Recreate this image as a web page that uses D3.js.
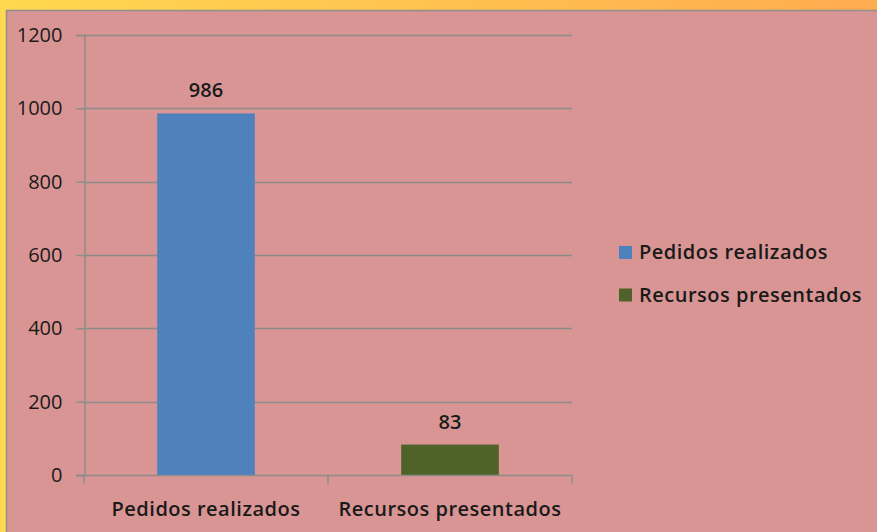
<!DOCTYPE html>
<html>
<head>
<meta charset="utf-8">
<script src="https://cdn.jsdelivr.net/npm/d3@7"></script>
<style>
  body { margin: 0; padding: 0; overflow: hidden; }
  svg { display: block; }
</style>
</head>
<body>
<div id="chart"></div>
<script>
// Data
const categories = ['Pedidos realizados', 'Recursos presentados'];
const values = [986, 83];
const barColors = ['#4f81bd', '#4f6228'];
const yTicks = [0, 200, 400, 600, 800, 1000, 1200];

const W = 877, H = 532;
const fontFamily = '"Open Sans", "Noto Sans", sans-serif';
const textColor = '#1a1a1a';

const svg = d3.select('#chart').append('svg')
    .attr('width', W)
    .attr('height', H);

// Frame gradient (yellow -> orange)
const defs = svg.append('defs');
const grad = defs.append('linearGradient')
    .attr('id', 'frameGrad')
    .attr('x1', '0%').attr('x2', '100%')
    .attr('y1', '0%').attr('y2', '0%');
grad.append('stop').attr('offset', '0%').attr('stop-color', '#ffd84f');
grad.append('stop').attr('offset', '100%').attr('stop-color', '#ffab50');

svg.append('rect')
    .attr('width', W).attr('height', H)
    .attr('fill', 'url(#frameGrad)');

// Pink panel
svg.append('rect')
    .attr('x', 6.5).attr('y', 10.5)
    .attr('width', W).attr('height', H)
    .attr('fill', '#d99594')
    .attr('stroke', '#8f8f8f')
    .attr('stroke-width', 1.5);

// Scales
const x = d3.scaleBand()
    .domain(categories)
    .range([84, 572])
    .paddingInner(0.6)
    .paddingOuter(0.3);

const y = d3.scaleLinear()
    .domain([0, 1200])
    .range([475, 35]);

const gridColor = '#8c8c8c';

// Gridlines
svg.append('g')
    .selectAll('line')
    .data(yTicks.filter(d => d > 0))
    .join('line')
    .attr('x1', 84).attr('x2', 572)
    .attr('y1', d => Math.round(y(d)) + 0.5)
    .attr('y2', d => Math.round(y(d)) + 0.5)
    .attr('stroke', gridColor)
    .attr('stroke-width', 1.5);

// Bars
svg.append('g')
    .selectAll('rect')
    .data(values)
    .join('rect')
    .attr('x', (d, i) => x(categories[i]))
    .attr('y', d => y(d))
    .attr('width', x.bandwidth())
    .attr('height', d => y(0) - y(d))
    .attr('fill', (d, i) => barColors[i]);

// Y axis
const yAxis = d3.axisLeft(y)
    .tickValues(yTicks)
    .tickFormat(d3.format('d'))
    .tickSize(8)
    .tickPadding(14);
const yAxisGroup = svg.append('g')
    .attr('transform', 'translate(84.5,0)')
    .call(yAxis);
yAxisGroup.select('.domain').attr('stroke', gridColor).attr('stroke-width', 1.5);
yAxisGroup.selectAll('.tick line').attr('stroke', gridColor).attr('stroke-width', 1.5);
yAxisGroup.selectAll('.tick text')
    .attr('fill', textColor)
    .style('font-family', fontFamily)
    .style('font-size', '20px');

// X axis
const xAxisGroup = svg.append('g')
    .attr('transform', `translate(0,${Math.round(y(0)) + 0.5})`);
xAxisGroup.append('line')
    .attr('x1', 76).attr('x2', 572)
    .attr('stroke', gridColor).attr('stroke-width', 1.5);
xAxisGroup.selectAll('line.tick')
    .data([x.range()[0], x.range()[0] + x.step(), x.range()[1]])
    .join('line')
    .attr('class', 'tick')
    .attr('x1', d => d).attr('x2', d => d)
    .attr('y1', 0).attr('y2', 8)
    .attr('stroke', gridColor).attr('stroke-width', 1.5);
xAxisGroup.selectAll('text')
    .data(categories)
    .join('text')
    .attr('x', d => x(d) + x.bandwidth() / 2)
    .attr('y', 40)
    .attr('text-anchor', 'middle')
    .attr('fill', textColor)
    .style('font-family', fontFamily)
    .style('font-size', '20px')
    .style('font-weight', 600)
    .style('letter-spacing', '0.5px')
    .text(d => d);

// Data labels
svg.append('g')
    .selectAll('text')
    .data(values)
    .join('text')
    .attr('x', (d, i) => x(categories[i]) + x.bandwidth() / 2)
    .attr('y', d => y(d) - 16)
    .attr('text-anchor', 'middle')
    .attr('fill', textColor)
    .style('font-family', fontFamily)
    .style('font-size', '20px')
    .style('font-weight', 600)
    .text(d => d);

// Legend
const legend = svg.append('g')
    .attr('transform', 'translate(619,259)');
const items = legend.selectAll('g')
    .data(categories)
    .join('g')
    .attr('transform', (d, i) => `translate(0,${i * 42.5})`);
items.append('rect')
    .attr('x', 0).attr('y', -13)
    .attr('width', 13).attr('height', 13)
    .attr('fill', (d, i) => barColors[i]);
items.append('text')
    .attr('x', 20)
    .attr('y', 0)
    .attr('fill', textColor)
    .style('font-family', fontFamily)
    .style('font-size', '20px')
    .style('font-weight', 600)
    .style('letter-spacing', '0.5px')
    .text(d => d);
</script>
</body>
</html>
